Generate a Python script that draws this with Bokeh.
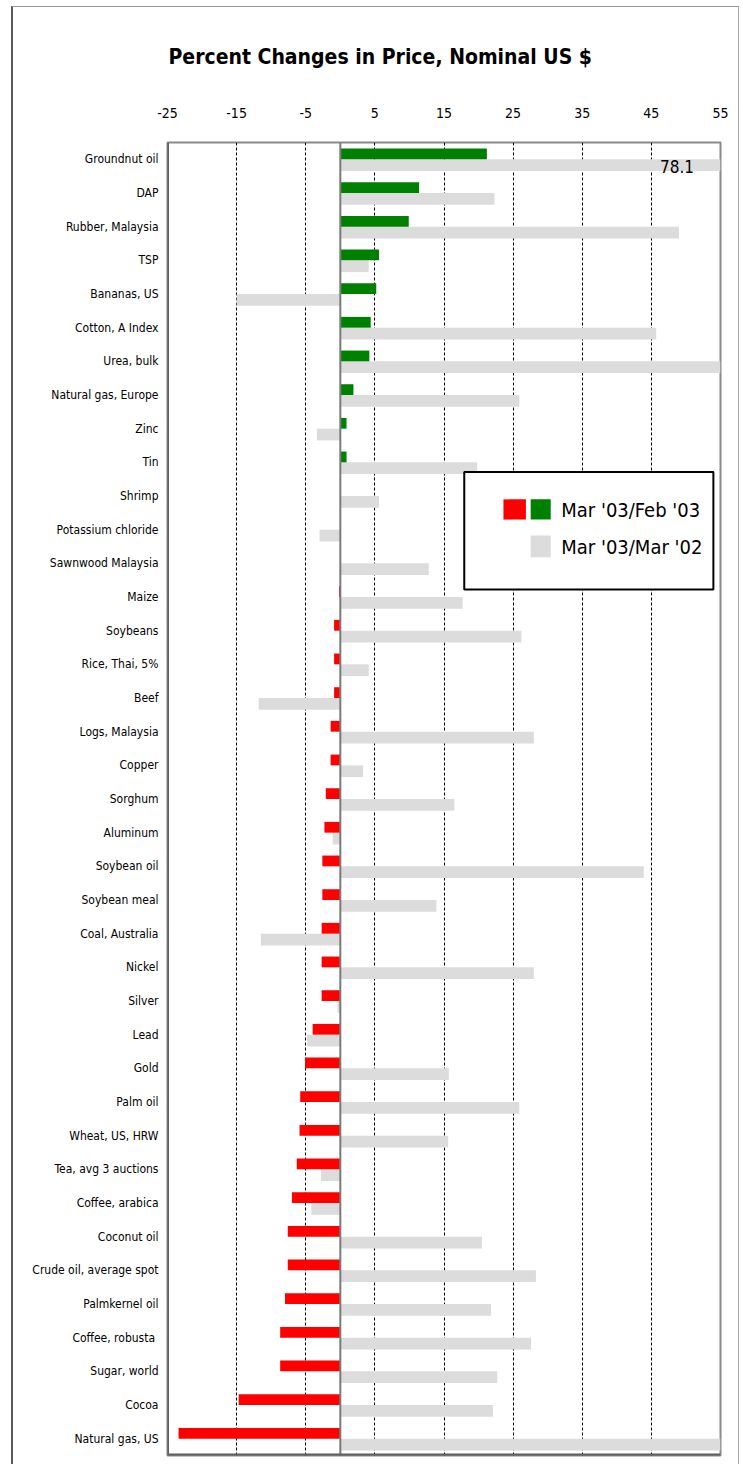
from bokeh.plotting import figure
from bokeh.models import Range1d, FixedTicker, Span, Label, BoxAnnotation, ColumnDataSource, InlineStyleSheet
from bokeh.embed import file_html
from bokeh.resources import INLINE

categories = [
    "Groundnut oil", "DAP", "Rubber, Malaysia", "TSP", "Bananas, US",
    "Cotton, A Index", "Urea, bulk", "Natural gas, Europe", "Zinc", "Tin",
    "Shrimp", "Potassium chloride", "Sawnwood Malaysia", "Maize", "Soybeans",
    "Rice, Thai, 5%", "Beef", "Logs, Malaysia", "Copper", "Sorghum",
    "Aluminum", "Soybean oil", "Soybean meal", "Coal, Australia", "Nickel",
    "Silver", "Lead", "Gold", "Palm oil", "Wheat, US, HRW",
    "Tea, avg 3 auctions", "Coffee, arabica", "Coconut oil", "Crude oil, average spot", "Palmkernel oil",
    "Coffee,  robusta", "Sugar, world", "Cocoa", "Natural gas, US",
]
# Mar '03 / Feb '03 (percent)
month_change = [
    21.2, 11.4, 9.9, 5.6, 5.2,
    4.4, 4.2, 1.9, 0.9, 0.9,
    0.0, 0.0, 0.0, -0.2, -0.9,
    -0.9, -0.9, -1.4, -1.4, -2.1,
    -2.3, -2.6, -2.6, -2.7, -2.7,
    -2.7, -4.0, -5.1, -5.8, -5.9,
    -6.3, -7.0, -7.6, -7.6, -8.0,
    -8.7, -8.7, -14.7, -23.4,
]
# Mar '03 / Mar '02 (percent)
year_change = [
    78.1, 22.3, 49.0, 4.1, -15.0,
    45.7, 58.0, 25.9, -3.4, 19.8,
    5.6, -3.0, 12.8, 17.7, 26.2,
    4.1, -11.8, 28.0, 3.3, 16.5,
    -1.1, 43.9, 13.9, -11.5, 28.0,
    -0.4, -4.8, 15.7, 25.9, 15.6,
    -2.8, -4.2, 20.5, 28.3, 21.8,
    27.6, 22.7, 22.1, 95.0,
]
x_ticks = [-25, -15, -5, 5, 15, 25, 35, 45, 55]
title_text = "Percent Changes in Price, Nominal US $"
legend_labels = ["Mar '03/Feb '03", "Mar '03/Mar '02"]
callout_text = "78.1"

FONT = "DejaVu Sans Condensed, Liberation Sans"
n = len(categories)
idx = list(range(n))

src = ColumnDataSource(dict(
    cat_y=[i - 0.16 for i in idx],
    year_y=[i + 0.175 for i in idx],
    month=month_change,
    year=year_change,
    color=["#008000" if v > 0 else "#FF0000" for v in month_change],
))

p = figure(width=743, height=1464, output_backend="svg", toolbar_location=None,
           x_range=Range1d(-25, 55), y_range=Range1d(n - 0.5, -0.5),
           x_axis_location="above",
           min_border_left=167, min_border_right=23, min_border_top=142, min_border_bottom=9)
p.stylesheets = [InlineStyleSheet(css=(
    ":host { position: relative; }"
    ":host::after { content: ''; position: absolute; left: 11px; top: 6px; right: 4px; bottom: -4px;"
    " border-left: 2px solid #5a5a5a; border-top: 1px solid #9a9a9a; border-right: 1px solid #a8a8a8;"
    " pointer-events: none; z-index: 1000; }"
))]
p.outline_line_color = "#8a8a8a"
p.outline_line_width = 2
p.background_fill_color = "white"
p.border_fill_color = "white"

# title
p.title.text = title_text
p.title.align = "left"
p.title.offset = 1
p.title.text_font = FONT
p.title.text_font_size = "21px"
p.title.text_font_style = "bold"
p.title.text_color = "#000000"
p.title.standoff = 72

# grid
p.xgrid.ticker = FixedTicker(ticks=x_ticks)
p.xgrid.grid_line_color = "#000000"
p.xgrid.grid_line_dash = "3 2"
p.xgrid.grid_line_width = 1
p.ygrid.grid_line_color = None

# axes
p.xaxis.ticker = FixedTicker(ticks=x_ticks)
p.xaxis.major_label_overrides = {t: str(t) for t in x_ticks}
p.xaxis.axis_line_color = None
p.xaxis.major_tick_line_color = None
p.xaxis.minor_tick_line_color = None
p.xaxis.major_tick_out = 0
p.xaxis.major_tick_in = 0
p.xaxis.major_label_standoff = 25
p.xaxis.major_label_text_font = FONT
p.xaxis.major_label_text_font_size = "14px"
p.xaxis.major_label_text_color = "#000000"

p.yaxis.ticker = FixedTicker(ticks=idx)
p.yaxis.major_label_overrides = {i: c for i, c in enumerate(categories)}
p.yaxis.axis_line_color = None
p.yaxis.major_tick_line_color = None
p.yaxis.minor_tick_line_color = None
p.yaxis.major_tick_out = 0
p.yaxis.major_tick_in = 0
p.yaxis.major_label_standoff = 9
p.yaxis.major_label_text_font = FONT
p.yaxis.major_label_text_font_size = "12px"
p.yaxis.major_label_text_color = "#000000"

# bars
p.hbar(y="year_y", right="year", left=0, height=0.35, source=src,
       fill_color="#DCDCDC", line_color=None)
p.hbar(y="cat_y", right="month", left=0, height=0.32, source=src,
       fill_color="color", line_color=None)

# zero line and darker left/bottom frame edges
p.add_layout(Span(location=0, dimension="height", line_color="#7a7a7a", line_width=2))
p.add_layout(Span(location=-25, dimension="height", line_color="#5f5f5f", line_width=3))
p.add_layout(Span(location=n - 0.5, dimension="width", line_color="#5f5f5f", line_width=4))

# value callout for clipped bar
p.add_layout(Label(x=48.7, y=0.22, text=callout_text, text_align="center", text_baseline="middle",
                   text_font=FONT, text_font_size="17px", text_color="#000000"))

# legend (drawn manually: two swatches share the first entry)
p.add_layout(BoxAnnotation(left=17.93, right=53.97, top=9.29, bottom=12.78,
                           fill_color="white", fill_alpha=1, line_color="black", line_alpha=1, line_width=2))
p.add_layout(BoxAnnotation(left=23.6, right=26.85, top=10.10, bottom=10.70,
                           fill_color="#FF0000", fill_alpha=1, line_color=None))
p.add_layout(BoxAnnotation(left=27.54, right=30.44, top=10.10, bottom=10.70,
                           fill_color="#008000", fill_alpha=1, line_color=None))
p.add_layout(BoxAnnotation(left=27.54, right=30.44, top=11.17, bottom=11.82,
                           fill_color="#DCDCDC", fill_alpha=1, line_color=None))
p.add_layout(Label(x=31.97, y=10.43, text=legend_labels[0], text_align="left", text_baseline="middle",
                   text_font=FONT, text_font_size="20px", text_color="#000000"))
p.add_layout(Label(x=31.97, y=11.52, text=legend_labels[1], text_align="left", text_baseline="middle",
                   text_font=FONT, text_font_size="20px", text_color="#000000"))

open("out.html", "w").write(file_html(p, INLINE))
